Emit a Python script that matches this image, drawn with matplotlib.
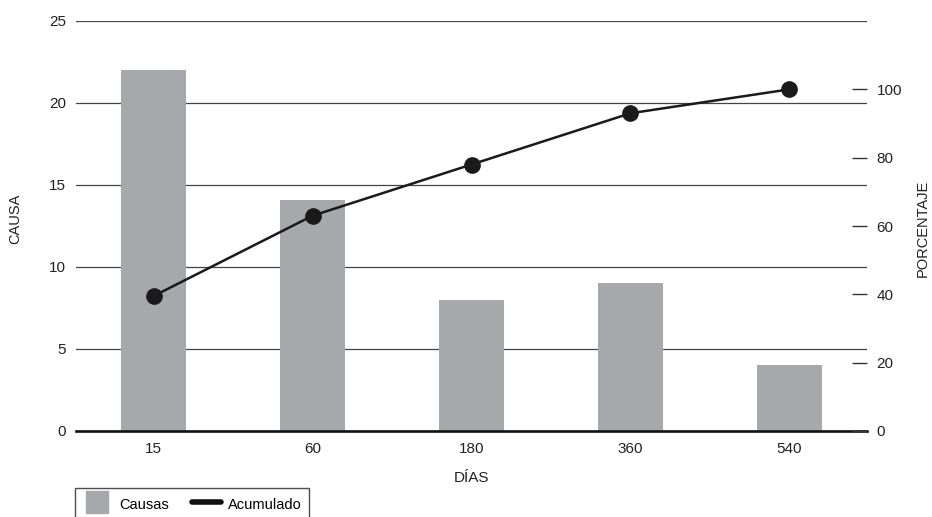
import numpy as np
import matplotlib
matplotlib.use("Agg")
import matplotlib.pyplot as plt
from matplotlib.lines import Line2D

plt.rcParams['font.family'] = ['Liberation Sans', 'DejaVu Sans']
plt.rcParams['font.size'] = 11

# data
dias = ['15', '60', '180', '360', '540']
causas = [22, 14.1, 8, 9, 4]
acumulado = [39.5, 63, 78, 93, 100]

fig = plt.figure(figsize=(9.32, 5.17), dpi=100)
ax = fig.add_axes([76 / 932, 1 - 431 / 517, 791 / 932, 410 / 517])

x = np.arange(len(dias))
ax.bar(x, causas, width=0.41, color='#a7a8ab', zorder=2)
ax.set_xlim(-0.4875, len(dias) - 1 + 0.4875)
ax.set_ylim(0, 25)
ax.set_yticks([0, 5, 10, 15, 20, 25])
ax.set_xticks(x)
ax.set_xticklabels(dias)
ax.set_axisbelow(True)
ax.yaxis.grid(True, color='#444444', linewidth=0.9)
ax.tick_params(axis='y', length=0, pad=7, labelcolor='#222222')
ax.tick_params(axis='x', length=0, pad=8, labelcolor='#222222')
for s in ['top', 'right', 'left']:
    ax.spines[s].set_visible(False)
ax.spines['bottom'].set_linewidth(1.9)
ax.spines['bottom'].set_color('#111111')
ax.spines['bottom'].set_zorder(5)
ax.set_xlabel('DÍAS', labelpad=11, color='#222222')
ax.set_ylabel('CAUSA', color='#222222', fontsize=10.5)
ax.yaxis.set_label_coords(-0.068, 0.517)

ax2 = ax.twinx()
ax2.plot(x, acumulado, color='#1a1a1a', linewidth=1.8, marker='o', markersize=11, zorder=3)
ax2.set_ylim(0, 120)
ax2.set_yticks([0, 20, 40, 60, 80, 100])
ax2.tick_params(axis='y', direction='in', length=11, width=1, color='#333333', pad=7,
                labelcolor='#222222')
for s in ['top', 'right', 'left', 'bottom']:
    ax2.spines[s].set_visible(False)
ax2.set_ylabel('PORCENTAJE', color='#222222', rotation=90, fontsize=10.5)
ax2.yaxis.set_label_coords(1.062, 0.493)

handles = [
    Line2D([], [], linestyle='none', marker='s', markersize=16, color='#a7a8ab'),
    Line2D([], [], color='#111111', linewidth=4, solid_capstyle='round'),
]
leg = fig.legend(handles, ['Causas', 'Acumulado'], loc='upper left',
                 bbox_to_anchor=(75 / 932, 1 - 488 / 517), ncol=2,
                 frameon=True, fancybox=False, edgecolor='#222222',
                 handlelength=2.0, handleheight=1.4, borderaxespad=0,
                 borderpad=0.5, columnspacing=1.6, handletextpad=0.5,
                 fontsize=10.5)
leg.get_frame().set_linewidth(1.0)
leg.get_frame().set_height(60)

fig.savefig('out.png', dpi=100)
